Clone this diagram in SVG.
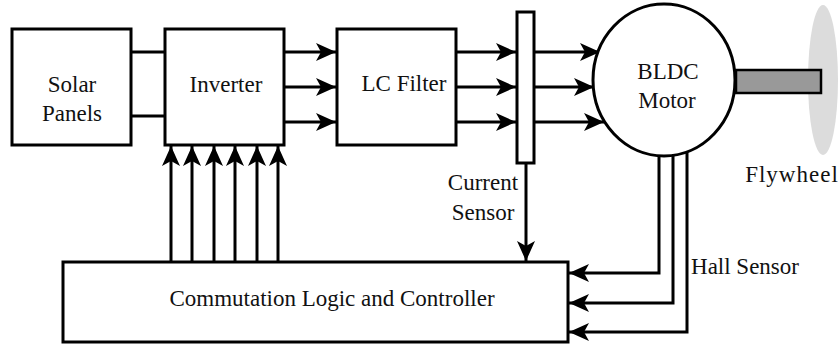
<svg xmlns="http://www.w3.org/2000/svg" width="838" height="348" viewBox="0 0 838 348">
<style>
.box{fill:#fff;stroke:#000;stroke-width:3}
.w{fill:none;stroke:#000;stroke-width:3}
.t{font-family:"Liberation Serif","Times New Roman",serif;font-size:23px;fill:#111;text-anchor:middle}
</style>
<defs>
<marker id="ah" viewBox="-20 -10 20 20" refX="0" refY="0" markerWidth="20" markerHeight="20" markerUnits="userSpaceOnUse" orient="auto">
<path d="M0,0 L-20,-9 L-15,0 L-20,9 Z" fill="#000"/>
</marker>
</defs>
<g id="flywheel">
<ellipse cx="823" cy="80" rx="15" ry="75" fill="#dcdcdc"/>
<text class="t" x="792" y="182" letter-spacing="1">Flywheel</text>
</g>
<g id="connectors">
<path class="w" d="M131,52 H165 M131,116 H165"/>
<path class="w" d="M284,52 H336" marker-end="url(#ah)"/>
<path class="w" d="M284,87 H336" marker-end="url(#ah)"/>
<path class="w" d="M284,122 H336" marker-end="url(#ah)"/>
<path class="w" d="M456,52 H516" marker-end="url(#ah)"/>
<path class="w" d="M456,87 H516" marker-end="url(#ah)"/>
<path class="w" d="M456,122 H516" marker-end="url(#ah)"/>
<path class="w" d="M534,52 H600" marker-end="url(#ah)"/>
<path class="w" d="M534,87 H594" marker-end="url(#ah)"/>
<path class="w" d="M534,122 H604" marker-end="url(#ah)"/>
<path class="w" d="M171,262 V146" marker-end="url(#ah)"/>
<path class="w" d="M192,262 V146" marker-end="url(#ah)"/>
<path class="w" d="M214,262 V146" marker-end="url(#ah)"/>
<path class="w" d="M235,262 V146" marker-end="url(#ah)"/>
<path class="w" d="M257,262 V146" marker-end="url(#ah)"/>
<path class="w" d="M278,262 V146" marker-end="url(#ah)"/>
<path class="w" d="M526,163 V261" marker-end="url(#ah)"/>
<path class="w" d="M659,150 V273 H569" marker-end="url(#ah)"/>
<path class="w" d="M673,150 V303 H569" marker-end="url(#ah)"/>
<path class="w" d="M687,150 V332 H569" marker-end="url(#ah)"/>
</g>
<g id="solar">
<rect class="box" x="12" y="29" width="119" height="116"/>
<text class="t" x="72" y="92">Solar</text>
<text class="t" x="72" y="121">Panels</text>
</g>
<g id="inverter">
<rect class="box" x="165" y="29" width="119" height="116"/>
<text class="t" x="226" y="92">Inverter</text>
</g>
<g id="lcfilter">
<rect class="box" x="337" y="29" width="119" height="116"/>
<text class="t" x="404" y="91">LC Filter</text>
</g>
<g id="currentsensor">
<rect class="box" x="517" y="12" width="17" height="151"/>
<text class="t" x="483" y="190">Current</text>
<text class="t" x="483" y="220">Sensor</text>
</g>
<g id="motor">
<rect x="736" y="70" width="85" height="23" fill="#999" stroke="#000" stroke-width="2.5"/>
<ellipse cx="664" cy="80" rx="71" ry="76" fill="#fff" stroke="#000" stroke-width="3"/>
<text class="t" x="668" y="79">BLDC</text>
<text class="t" x="667" y="108">Motor</text>
</g>
<g id="hallsensor">
<text class="t" x="745" y="274">Hall Sensor</text>
</g>
<g id="controller">
<rect class="box" x="63" y="262" width="505" height="80"/>
<text class="t" x="332" y="306">Commutation Logic and Controller</text>
</g>
</svg>
